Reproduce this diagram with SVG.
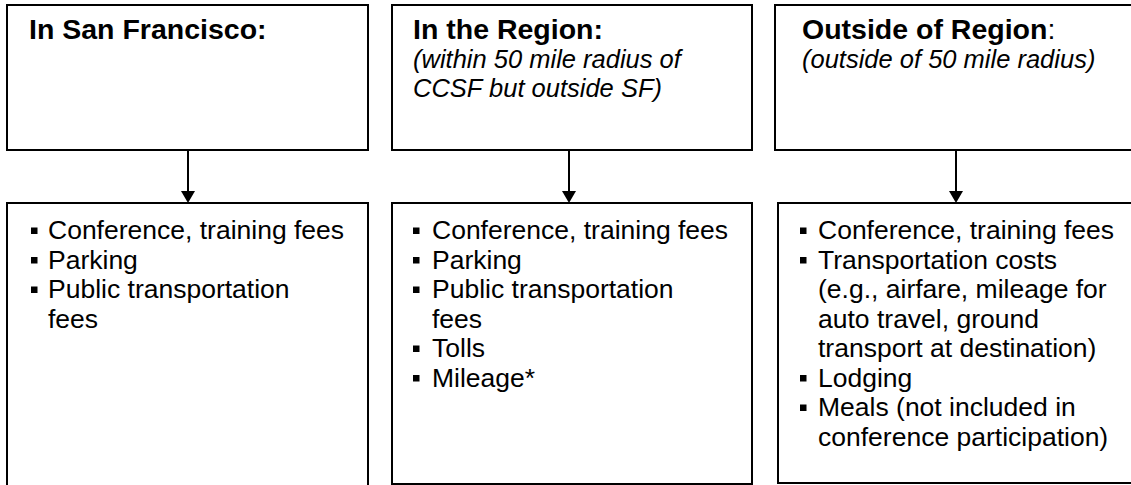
<svg xmlns="http://www.w3.org/2000/svg" width="1131" height="485" viewBox="0 0 1131 485">
<style>
.box{fill:#fff;stroke:#000;stroke-width:2}
.h{font-family:"Liberation Sans",Arial,sans-serif;font-size:28.5px;font-weight:bold;fill:#000}
.hr{font-weight:normal}
.i{font-family:"Liberation Sans",Arial,sans-serif;font-size:25.5px;font-style:italic;fill:#000}
.t{font-family:"Liberation Sans",Arial,sans-serif;font-size:26.5px;fill:#000}
.conn line{stroke:#000;stroke-width:2}
.conn path{fill:#000}
.b{fill:#000}
</style>
<rect width="1131" height="485" fill="#fff"/>
<g id="sf-head">
<rect class="box" x="7" y="5" width="361" height="145"/>
<text class="h" x="29" y="39">In San Francisco:</text>
</g>
<g id="region-head">
<rect class="box" x="392" y="5" width="360" height="145"/>
<text class="h" x="413" y="39">In the Region:</text>
<text class="i" x="413" y="68">(within 50 mile radius of</text>
<text class="i" x="413" y="97">CCSF but outside SF)</text>
</g>
<g id="outside-head">
<rect class="box" x="775" y="5" width="362" height="145"/>
<text class="h" x="802" y="39">Outside of Region<tspan class="hr">:</tspan></text>
<text class="i" x="802" y="68">(outside of 50 mile radius)</text>
</g>
<g id="sf-list">
<rect class="box" x="7" y="203" width="361" height="290"/>
<rect class="b" x="31" y="227.5" width="6.5" height="6.5"/>
<text class="t" x="48" y="239">Conference, training fees</text>
<rect class="b" x="31" y="257" width="6.5" height="6.5"/>
<text class="t" x="48" y="268.5">Parking</text>
<rect class="b" x="31" y="286.5" width="6.5" height="6.5"/>
<text class="t" x="48" y="298">Public transportation</text>
<text class="t" x="48" y="327.5">fees</text>
</g>
<g id="region-list">
<rect class="box" x="392" y="203" width="360" height="281"/>
<rect class="b" x="413" y="227.5" width="6.5" height="6.5"/>
<text class="t" x="432" y="239">Conference, training fees</text>
<rect class="b" x="413" y="257" width="6.5" height="6.5"/>
<text class="t" x="432" y="268.5">Parking</text>
<rect class="b" x="413" y="286.5" width="6.5" height="6.5"/>
<text class="t" x="432" y="298">Public transportation</text>
<text class="t" x="432" y="327.5">fees</text>
<rect class="b" x="413" y="345.5" width="6.5" height="6.5"/>
<text class="t" x="432" y="357">Tolls</text>
<rect class="b" x="413" y="375" width="6.5" height="6.5"/>
<text class="t" x="432" y="386.5">Mileage*</text>
</g>
<g id="outside-list">
<rect class="box" x="778" y="203" width="362" height="280"/>
<rect class="b" x="800" y="227.5" width="6.5" height="6.5"/>
<text class="t" x="818" y="239">Conference, training fees</text>
<rect class="b" x="800" y="257" width="6.5" height="6.5"/>
<text class="t" x="818" y="268.5">Transportation costs</text>
<text class="t" x="818" y="298">(e.g., airfare, mileage for</text>
<text class="t" x="818" y="327.5">auto travel, ground</text>
<text class="t" x="818" y="357">transport at destination)</text>
<rect class="b" x="800" y="375" width="6.5" height="6.5"/>
<text class="t" x="818" y="386.5">Lodging</text>
<rect class="b" x="800" y="404.5" width="6.5" height="6.5"/>
<text class="t" x="818" y="416">Meals (not included in</text>
<text class="t" x="818" y="445.5">conference participation)</text>
</g>
<g id="connectors" class="conn">
<line x1="188" y1="150" x2="188" y2="192"/>
<path d="M181,191 L195,191 L188,203 Z"/>
<line x1="569" y1="150" x2="569" y2="192"/>
<path d="M562,191 L576,191 L569,203 Z"/>
<line x1="956" y1="150" x2="956" y2="192"/>
<path d="M949,191 L963,191 L956,203 Z"/>
</g>
</svg>
